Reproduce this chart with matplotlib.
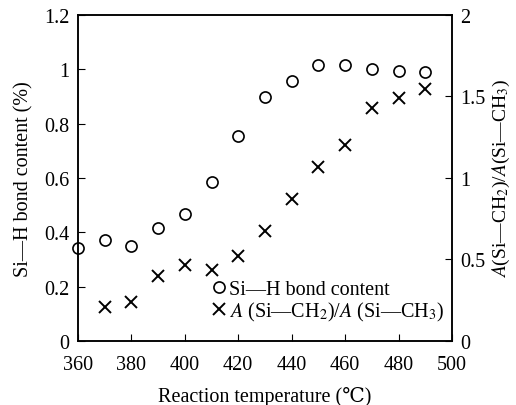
import matplotlib
matplotlib.use("Agg")
import matplotlib.pyplot as plt

plt.rcParams['font.family'] = ['Liberation Serif', 'DejaVu Serif']
plt.rcParams['mathtext.fontset'] = 'stix'

# data
temp_sih = [360, 370, 380, 390, 400, 410, 420, 430, 440, 450, 460, 470, 480, 490]
sih_content = [0.34, 0.37, 0.35, 0.415, 0.468, 0.585, 0.754, 0.896, 0.955, 1.017, 1.015, 0.999, 0.993, 0.989]
temp_ratio = [370, 380, 390, 400, 410, 420, 430, 440, 450, 460, 470, 480, 490]
ch_ratio = [0.21, 0.237, 0.395, 0.467, 0.432, 0.519, 0.673, 0.868, 1.068, 1.204, 1.43, 1.49, 1.543]

x_ticks = [360, 380, 400, 420, 440, 460, 480, 500]
left_ticks = [0, 0.2, 0.4, 0.6, 0.8, 1, 1.2]
left_labels = ['0', '0.2', '0.4', '0.6', '0.8', '1', '1.2']
right_ticks = [0, 0.5, 1, 1.5, 2]
right_labels = ['0', '0.5', '1', '1.5', '2']

fs = 14.5

fig = plt.figure(figsize=(5.16, 4.06), dpi=100)
ax = fig.add_axes([0.151, 0.158, 0.725, 0.803])
ax2 = ax.twinx()

l1, = ax.plot(temp_sih, sih_content, linestyle='none', marker='o', markersize=8,
              markerfacecolor='none', markeredgecolor='black', markeredgewidth=1.2,
              clip_on=False, label='Si—H bond content')
l2, = ax2.plot(temp_ratio, ch_ratio, linestyle='none', marker='x', markersize=8,
               color='black', markeredgewidth=1.4,
               label=r'$\mathit{A}$ (Si—CH$_2$)/$\mathit{A}$ (Si—CH$_3$)')

ax.set_xlim(360, 500)
ax.set_ylim(0, 1.2)
ax2.set_ylim(0, 2)
ax.set_xticks(x_ticks)
ax.set_yticks(left_ticks)
ax.set_yticklabels(left_labels)
ax2.set_yticks(right_ticks)
ax2.set_yticklabels(right_labels)

ax.tick_params(direction='in', length=5, labelsize=fs, top=False, right=False)
ax.tick_params(axis='x', pad=10)
ax.tick_params(axis='y', pad=6)
ax2.tick_params(direction='in', length=5, labelsize=fs, pad=6)
for a in (ax, ax2):
    for s in a.spines.values():
        s.set_linewidth(1.1)

ax.set_xlabel('Reaction temperature (\u2103)', fontsize=fs, labelpad=9)
ax.set_ylabel('Si—H bond content (%)', fontsize=fs, labelpad=8)
ax2.set_ylabel(r'$\mathit{A}$(Si—CH$_2$)/$\mathit{A}$(Si—CH$_3$)', fontsize=14, labelpad=4)

ax.legend(handles=[l1, l2], loc='lower right', bbox_to_anchor=(1.0, 0.03), frameon=False,
          fontsize=fs, handlelength=0.5, handletextpad=0.25, labelspacing=0.05,
          borderaxespad=0.0)

fig.savefig('out.png', dpi=100)
